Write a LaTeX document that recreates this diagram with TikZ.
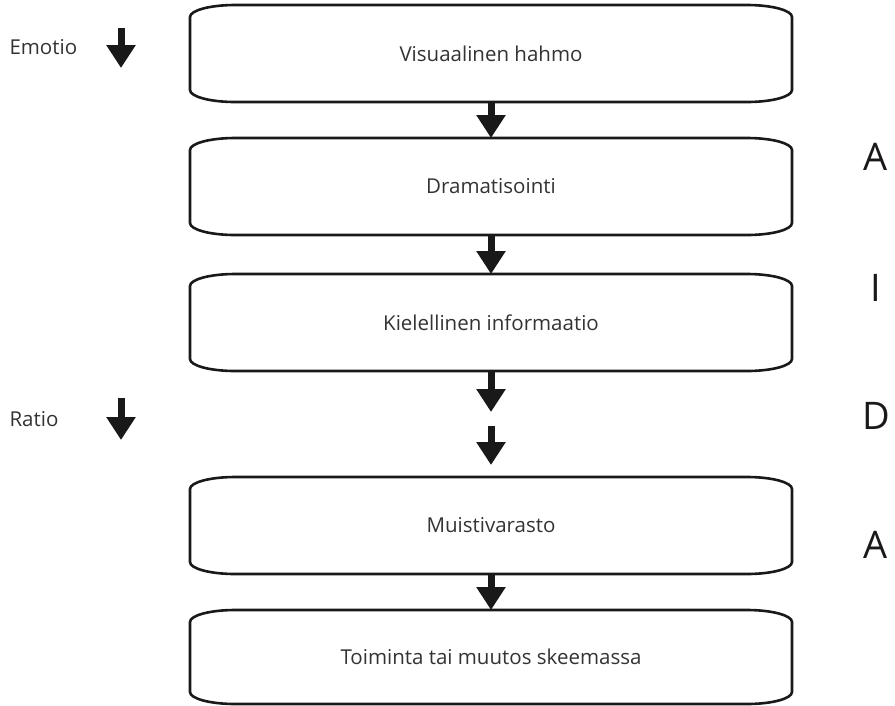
\documentclass[tikz,border=0pt]{standalone}
\usepackage{fontspec}
\setmainfont{Open Sans}
\usetikzlibrary{positioning, arrows.meta}
\tikzset{
    stage/.style={rectangle, minimum width=602pt, minimum height=97pt, inner sep=0pt, outer sep=0pt, font=\fontsize{20.5}{24}\selectfont, text=black!80},
    outline/.style={line width=2.6pt, black!90},
    flow/.style={-{Triangle[width=28pt, length=23pt]}, line width=7pt, black!90},
    side/.style={font=\fontsize{20.5}{24}\selectfont, text=black!80, anchor=west},
    letter/.style={font=\fontsize{38}{42}\selectfont, text=black!90}
}

\begin{document}
\begin{tikzpicture}[x=1pt, y=1pt]
        	\useasboundingbox (0,0) rectangle (895,-705);
        	% Vaiheet ylhäältä alas
        	\node (visual) [stage] at (491,-53.5) {Visuaalinen hahmo};
        	\node (drama) [stage, below=36pt of visual] {Dramatisointi};
        	\node (kieli) [stage, below=39pt of drama] {Kielellinen informaatio};
        	\node (muisti) [stage, below=106pt of kieli] {Muistivarasto};
        	\node (toiminta) [stage, minimum height=94pt, below=36pt of muisti] {Toiminta tai muutos skeemassa};
        	
        	% Laatikot, joissa loivat kulmat
        	\foreach \n in {visual, drama, kieli, muisti, toiminta}
        	\draw[outline] ([yshift=-12pt]\n.north west) arc[start angle=180, end angle=90, x radius=45pt, y radius=12pt]
        		-- ([xshift=-45pt]\n.north east) arc[start angle=90, end angle=0, x radius=45pt, y radius=12pt]
        		-- ([yshift=12pt]\n.south east) arc[start angle=0, end angle=-90, x radius=45pt, y radius=12pt]
        		-- ([xshift=45pt]\n.south west) arc[start angle=270, end angle=180, x radius=45pt, y radius=12pt]
        		-- cycle;
        	
        	\coordinate[below=41pt of kieli.south] (gapA);
        	\coordinate[below=55pt of kieli.south] (gapB);
        	\coordinate[above=12pt of muisti.north] (gapC);
        	
        	\draw[flow] (visual) -- (drama);
        	\draw[flow] (drama) -- (kieli);
        	\draw[flow] (kieli) -- (gapA);
        	\draw[flow] (gapB) -- (gapC);
        	\draw[flow] (muisti) -- (toiminta);
        	
        	% Vasen reuna
        	\node (emotio) [side] at (6,-47) {Emotio};
        	\node (ratio) [side] at (6,-419) {Ratio};
        	\coordinate (emoTop) at (121,-28);
        	\coordinate (emoTip) at (121,-68);
        	\coordinate (ratTop) at (121,-398);
        	\coordinate (ratTip) at (121,-440);
        	\draw[flow] (emoTop) -- (emoTip);
        	\draw[flow] (ratTop) -- (ratTip);
        	
        	% AIDA
        	\node (aA) [letter] at (876,-157) {A};
        	\node (aI) [letter] at (876,-288) {I};
        	\node (aD) [letter] at (876,-416) {D};
        	\node (aA2) [letter] at (876,-545) {A};
        	
        \end{tikzpicture}
\end{document}
